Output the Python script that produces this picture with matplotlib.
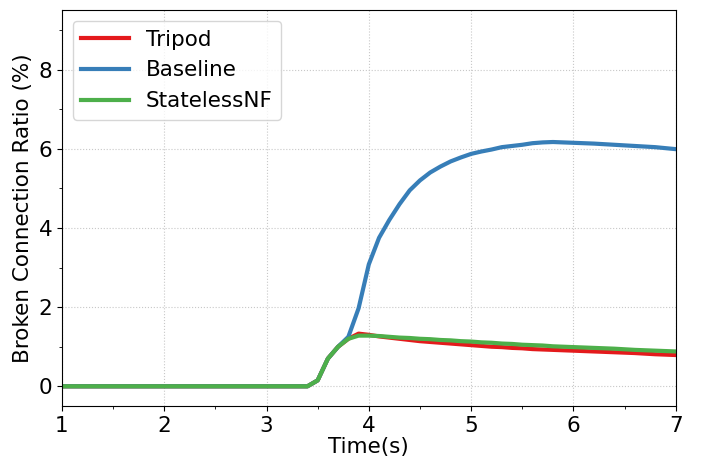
import matplotlib
matplotlib.use("Agg")
from matplotlib import pyplot as plt
from matplotlib.ticker import MultipleLocator

time = [1.0, 1.5, 2.0, 2.5, 3.0, 3.4, 3.5, 3.6, 3.7, 3.8, 3.9, 4.0, 4.1, 4.2, 4.3,
        4.4, 4.5, 4.6, 4.7, 4.8, 4.9, 5.0, 5.1, 5.2, 5.3, 5.4, 5.5, 5.6, 5.7,
        5.8, 5.9, 6.0, 6.2, 6.4, 6.6, 6.8, 7.0]
baseline = [0, 0, 0, 0, 0, 0, 0.15, 0.7, 1.0, 1.25, 1.97, 3.08, 3.75, 4.2, 4.6,
            4.95, 5.2, 5.4, 5.55, 5.68, 5.78, 5.87, 5.93, 5.98, 6.04, 6.07, 6.1,
            6.14, 6.16, 6.17, 6.16, 6.15, 6.13, 6.1, 6.07, 6.04, 5.99]
tripod = [0, 0, 0, 0, 0, 0, 0.15, 0.7, 1.0, 1.2, 1.33, 1.3, 1.26, 1.23, 1.2,
          1.17, 1.14, 1.12, 1.1, 1.08, 1.06, 1.04, 1.02, 1.0, 0.99, 0.97, 0.96,
          0.94, 0.93, 0.92, 0.91, 0.9, 0.88, 0.86, 0.84, 0.81, 0.79]
stateless = [0, 0, 0, 0, 0, 0, 0.15, 0.7, 1.0, 1.2, 1.28, 1.28, 1.27, 1.25, 1.23,
             1.22, 1.2, 1.19, 1.17, 1.16, 1.14, 1.13, 1.11, 1.1, 1.08, 1.07, 1.05,
             1.04, 1.03, 1.01, 1.0, 0.99, 0.97, 0.95, 0.92, 0.9, 0.88]

plt.rcParams['font.size'] = 15.5

fig, ax = plt.subplots(figsize=(7.12, 4.62), dpi=100)
ax.plot(time, tripod, color='#e41a1c', lw=3, label='Tripod')
ax.plot(time, baseline, color='#377eb8', lw=3, label='Baseline')
ax.plot(time, stateless, color='#4daf4a', lw=3, label='StatelessNF')

ax.set_xlim(1, 7)
ax.set_ylim(-0.5, 9.5)
ax.xaxis.set_major_locator(MultipleLocator(1))
ax.xaxis.set_minor_locator(MultipleLocator(0.5))
ax.yaxis.set_major_locator(MultipleLocator(2))
ax.yaxis.set_minor_locator(MultipleLocator(1))
ax.grid(True, which='major', linestyle=':', color='#c8c8c8', lw=0.8)
ax.set_xlabel('Time(s)', labelpad=1)
ax.set_ylabel('Broken Connection Ratio (%)')
ax.legend(loc='upper left', handlelength=2.2)

plt.subplots_adjust(left=0.087, right=0.949, top=0.978, bottom=0.121)
plt.savefig('out.png')
